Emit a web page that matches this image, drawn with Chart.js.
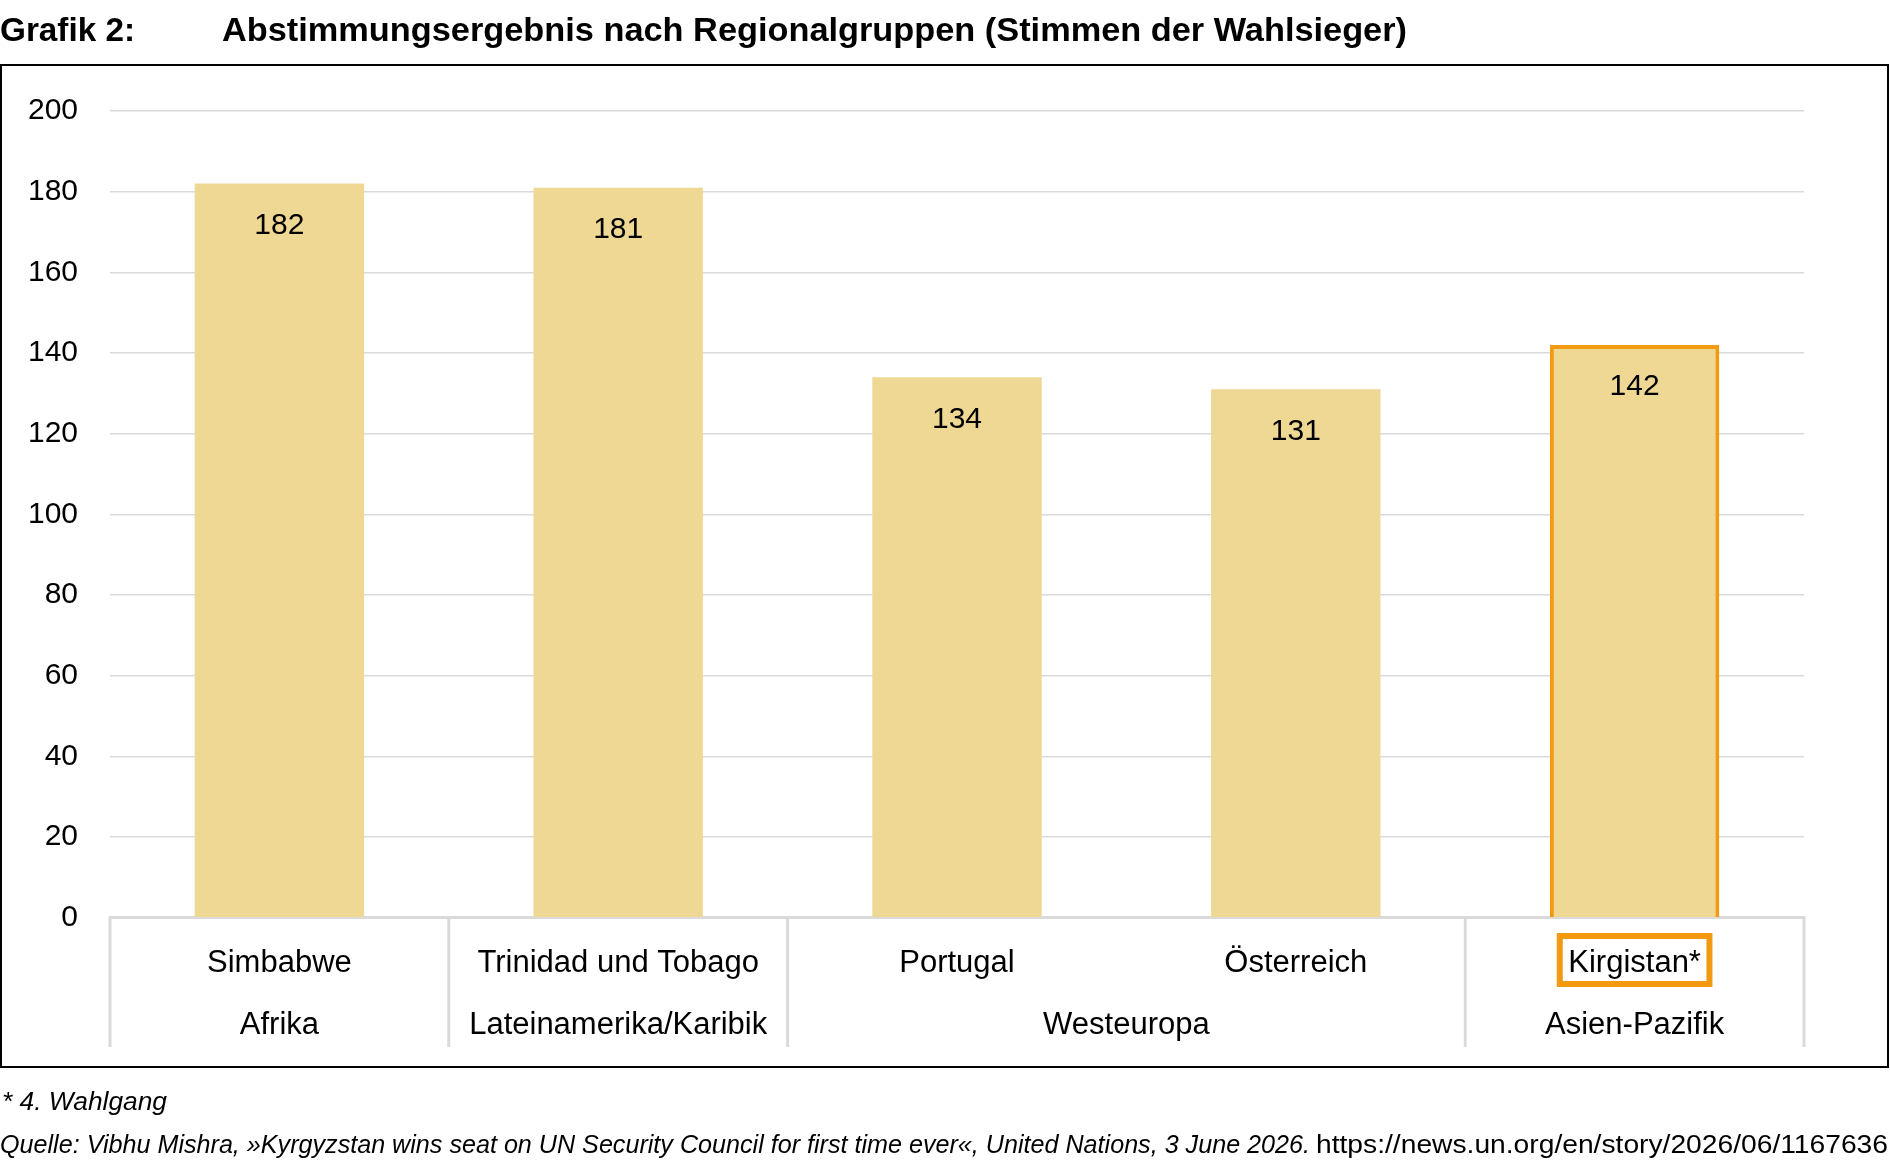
<!DOCTYPE html>
<html lang="de">
<head>
<meta charset="utf-8">
<script src="https://cdn.jsdelivr.net/npm/chart.js@4.4.1/dist/chart.umd.min.js"></script>
<style>
html,body{margin:0;padding:0;background:#fff;}
canvas{display:block;}
</style>
</head>
<body>
<canvas id="c" width="1890" height="1163"></canvas>
<script>
const countries = ['Simbabwe', 'Trinidad und Tobago', 'Portugal', 'Österreich', 'Kirgistan*'];
const votes = [182, 181, 134, 131, 142];
const regions = ['Afrika', 'Lateinamerika/Karibik', 'Westeuropa', 'Asien-Pazifik'];
const regionSpans = [1, 1, 2, 1];
const highlightIndex = 4;
const yMin = 0, yMax = 200, yStep = 20;
const titleLabel = 'Grafik 2:';
const titleText = 'Abstimmungsergebnis nach Regionalgruppen (Stimmen der Wahlsieger)';
const footnote = '* 4. Wahlgang';
const sourceText = 'Quelle: Vibhu Mishra, »Kyrgyzstan wins seat on UN Security Council for first time ever«, United Nations, 3 June 2026.';
const sourceUrl = 'https://news.un.org/en/story/2026/06/1167636';

const FONT = '"Liberation Sans", Arial, sans-serif';
const BAR = '#EFD894';
const ORANGE = '#F29A12';
const GRID = '#DADADA';

function fitText(ctx, text, x, y, width) {
  const w = ctx.measureText(text).width;
  ctx.save();
  ctx.translate(x, y);
  ctx.scale(width / w, 1);
  ctx.fillText(text, 0, 0);
  ctx.restore();
}

const decor = {
  id: 'decor',
  beforeDraw(chart) {
    const ctx = chart.ctx;
    ctx.save();
    ctx.fillStyle = '#fff';
    ctx.fillRect(0, 0, chart.width, chart.height);
    ctx.strokeStyle = '#000';
    ctx.lineWidth = 2;
    ctx.strokeRect(1, 65, 1887, 1002);
    ctx.fillStyle = '#000';
    ctx.textAlign = 'left';
    ctx.textBaseline = 'alphabetic';
    ctx.font = 'bold 34px ' + FONT;
    fitText(ctx, titleLabel, 0, 41, 135);
    fitText(ctx, titleText, 222, 41, 1185);
    ctx.font = 'italic 25px ' + FONT;
    fitText(ctx, footnote, 2, 1110, 165);
    fitText(ctx, sourceText, 0, 1153, 1310);
    ctx.font = '25px ' + FONT;
    fitText(ctx, sourceUrl, 1316, 1153, 572);
    ctx.restore();
  },
  afterDraw(chart) {
    const ctx = chart.ctx;
    const x = chart.scales.x;
    const area = chart.chartArea;
    const step = x.getPixelForValue(1) - x.getPixelForValue(0);
    ctx.save();
    // group separators
    ctx.strokeStyle = GRID;
    ctx.lineWidth = 3;
    const bounds = [0];
    let acc = 0;
    regionSpans.forEach(s => { acc += s; bounds.push(acc); });
    bounds.forEach(b => {
      const px = x.getPixelForValue(0) - step / 2 + b * step;
      ctx.beginPath();
      ctx.moveTo(px, area.bottom - 1.5);
      ctx.lineTo(px, 1047);
      ctx.stroke();
    });
    // region labels
    ctx.fillStyle = '#000';
    ctx.font = '31px ' + FONT;
    ctx.textAlign = 'center';
    ctx.textBaseline = 'middle';
    let start = 0;
    regions.forEach((r, i) => {
      const end = start + regionSpans[i] - 1;
      const cx = (x.getPixelForValue(start) + x.getPixelForValue(end)) / 2;
      ctx.fillText(r, cx, 1025);
      start = end + 1;
    });
    // highlight box around label
    const tw = ctx.measureText(countries[highlightIndex]).width;
    const hx = x.getPixelForValue(highlightIndex);
    ctx.strokeStyle = ORANGE;
    ctx.lineWidth = 6;
    ctx.strokeRect(hx - tw / 2 - 8.5, 936, tw + 17, 48);
    // value labels
    const meta = chart.getDatasetMeta(0);
    ctx.font = '30px ' + FONT;
    meta.data.forEach((bar, i) => {
      ctx.fillText(String(votes[i]), bar.x, bar.y + 42);
    });
    ctx.restore();
  }
};

new Chart(document.getElementById('c'), {
  type: 'bar',
  data: {
    labels: countries,
    datasets: [{
      data: votes,
      backgroundColor: BAR,
      borderColor: votes.map((v, i) => i === highlightIndex ? ORANGE : BAR),
      borderWidth: votes.map((v, i) => i === highlightIndex ? 4 : 0),
      borderSkipped: 'bottom',
      barPercentage: 0.5,
      categoryPercentage: 1
    }]
  },
  options: {
    responsive: false,
    animation: false,
    devicePixelRatio: 1,
    layout: { padding: { left: 0, right: 86, top: 111, bottom: 154 } },
    plugins: { legend: { display: false }, tooltip: { enabled: false } },
    scales: {
      y: {
        min: yMin, max: yMax,
        ticks: { stepSize: yStep, color: '#000', font: { family: FONT, size: 30 }, padding: 32 },
        grid: { color: GRID, lineWidth: 1.5, drawTicks: false },
        border: { display: false },
        afterFit(s) { s.width = 110; }
      },
      x: {
        ticks: { color: '#000', font: { family: FONT, size: 31 }, padding: 27, autoSkip: false, maxRotation: 0 },
        grid: { drawOnChartArea: false, drawTicks: false, color: 'rgba(0,0,0,0)' },
        border: { display: true, color: GRID, width: 3 }
      }
    }
  },
  plugins: [decor]
});
</script>
</body>
</html>
